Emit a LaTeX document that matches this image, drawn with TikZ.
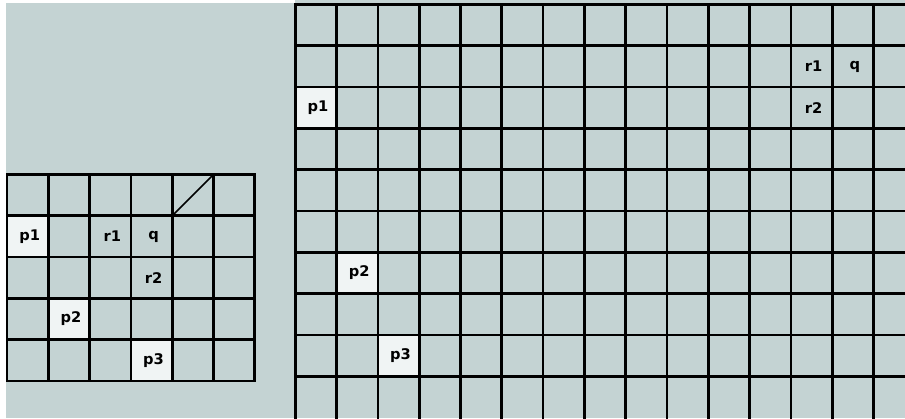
\documentclass[tikz,border=0pt]{standalone}
\usepackage{fontspec}
\setsansfont{DejaVu Sans}
\usepackage{xcolor}
\definecolor{boardgrey}{HTML}{C4D3D3}
\definecolor{cellwhite}{HTML}{F0F4F4}

\tikzset{
  gridline/.style={line width=2pt, line cap=rect, black},
  markcell/.style={fill=cellwhite},
  slashline/.style={line width=1.1pt, black},
  lbl/.style={font=\sffamily\bfseries\fontsize{11}{13}\selectfont, inner sep=0pt, xshift=1.5pt}
}

\begin{document}
\begin{tikzpicture}[x=0.75pt,y=-0.75pt]

\clip (0,0) rectangle (905,418);
\fill[white] (0,0) rectangle (905,418);
\fill[boardgrey] (6,3) rectangle (905,418);
\fill[boardgrey] (295,0) rectangle (905,418);

% small board
\begin{scope}[shift={(7,174.5)}, x=30.975pt, y=-30.975pt]
\fill[markcell] (0,1) rectangle (1,2);
\fill[markcell] (1,3) rectangle (2,4);
\fill[markcell] (3,4) rectangle (4,5);

\foreach \i in {0,...,6} \draw[gridline] (\i,0) -- (\i,5);
\foreach \j in {0,...,5} \draw[gridline] (0,\j) -- (6,\j);

\draw[slashline] (4,1) -- (5,0);

\node[lbl] (sp1) at (0.5,1.5) {p1};
\node[lbl] (sr1) at (2.5,1.5) {r1};
\node[lbl] (sq)  at (3.5,1.5) {q};
\node[lbl] (sr2) at (3.5,2.5) {r2};
\node[lbl] (sp2) at (1.5,3.5) {p2};
\node[lbl] (sp3) at (3.5,4.5) {p3};
\end{scope}

% large board
\begin{scope}[shift={(295.3,4.5)}, x=30.975pt, y=-30.975pt]
\fill[markcell] (0,2) rectangle (1,3);
\fill[markcell] (1,6) rectangle (2,7);
\fill[markcell] (2,8) rectangle (3,9);

\foreach \i in {0,...,14} \draw[gridline] (\i,0) -- (\i,10.5);
\foreach \j in {0,...,9} \draw[gridline] (0,\j) -- (15,\j);

\node[lbl] (bp1) at (0.5,2.5) {p1};
\node[lbl] (br1) at (12.5,1.5) {r1};
\node[lbl] (bq)  at (13.5,1.5) {q};
\node[lbl] (br2) at (12.5,2.5) {r2};
\node[lbl] (bp2) at (1.5,6.5) {p2};
\node[lbl] (bp3) at (2.5,8.5) {p3};
\end{scope}

\end{tikzpicture}
\end{document}
